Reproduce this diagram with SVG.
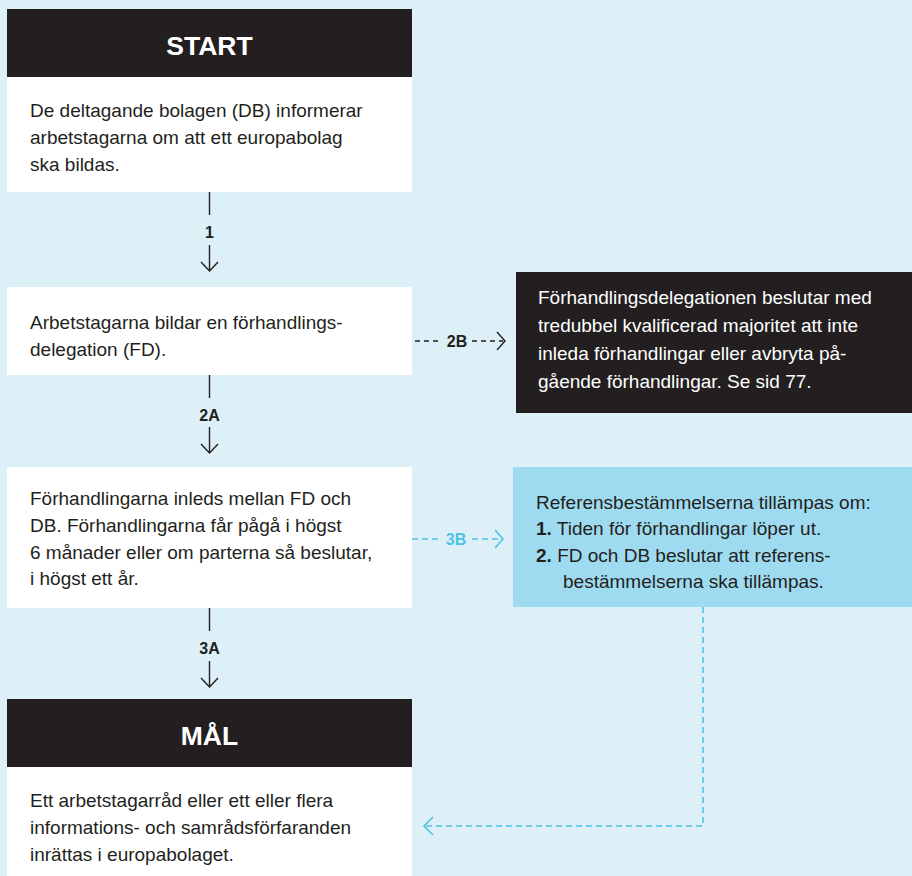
<svg xmlns="http://www.w3.org/2000/svg" width="912" height="876" viewBox="0 0 912 876">
<style>
.t{font-family:"Liberation Sans",Arial,sans-serif;font-size:19px;fill:#231f20}
.tw{font-family:"Liberation Sans",Arial,sans-serif;font-size:19px;fill:#ffffff}
.h{font-family:"Liberation Sans",Arial,sans-serif;font-size:26.500px;font-weight:bold;fill:#ffffff}
.lb{font-family:"Liberation Sans",Arial,sans-serif;font-size:16px;font-weight:bold;fill:#231f20}
.lc{font-family:"Liberation Sans",Arial,sans-serif;font-size:16px;font-weight:bold;fill:#4ec3e6}
.b{font-weight:bold}
.ln{stroke:#231f20;stroke-width:1.4;fill:none}
.dk{stroke:#231f20;stroke-width:1.4;fill:none;stroke-dasharray:5 4}
.cy{stroke:#4ec3e6;stroke-width:1.6;fill:none;stroke-dasharray:6 4}
.cys{stroke:#4ec3e6;stroke-width:1.6;fill:none}
</style>
<rect x="0" y="0" width="912" height="876" fill="#ddf0f8"/>

<g id="start">
<rect x="7" y="9" width="405" height="68" fill="#231f20"/>
<rect x="7" y="77" width="405" height="115" fill="#ffffff"/>
<text class="h" x="209.500" y="54.500" text-anchor="middle">START</text>
<text class="t" x="30" y="116.500">De deltagande bolagen (DB) informerar</text>
<text class="t" x="30" y="143.500">arbetstagarna om att ett europabolag</text>
<text class="t" x="30" y="170.500">ska bildas.</text>
</g>

<g id="step2">
<rect x="7" y="287" width="405" height="88" fill="#ffffff"/>
<text class="t" x="30" y="328.500">Arbetstagarna bildar en förhandlings-</text>
<text class="t" x="30" y="355.500">delegation (FD).</text>
</g>

<g id="step2b">
<rect x="516" y="272" width="396" height="141" fill="#231f20"/>
<text class="tw" x="538" y="303.500">Förhandlingsdelegationen beslutar med</text>
<text class="tw" x="538" y="331.500">tredubbel kvalificerad majoritet att inte</text>
<text class="tw" x="538" y="359.500">inleda förhandlingar eller avbryta på-</text>
<text class="tw" x="538" y="388">gående förhandlingar. Se sid 77.</text>
</g>

<g id="step3">
<rect x="7" y="467" width="405" height="141" fill="#ffffff"/>
<text class="t" x="30" y="504.500">Förhandlingarna inleds mellan FD och</text>
<text class="t" x="30" y="531.500">DB. Förhandlingarna får pågå i högst</text>
<text class="t" x="30" y="558.500">6 månader eller om parterna så beslutar,</text>
<text class="t" x="30" y="585">i högst ett år.</text>
</g>

<g id="step3b">
<rect x="513" y="467" width="399" height="140" fill="#9fdbf0"/>
<text class="t" x="536" y="508.500">Referensbestämmelserna tillämpas om:</text>
<text class="t" x="536" y="534.500"><tspan class="b">1.</tspan> Tiden för förhandlingar löper ut.</text>
<text class="t" x="536" y="561.500"><tspan class="b">2.</tspan> FD och DB beslutar att referens-</text>
<text class="t" x="563" y="587.500">bestämmelserna ska tillämpas.</text>
</g>

<g id="goal">
<rect x="7" y="699" width="405" height="68" fill="#231f20"/>
<rect x="7" y="767" width="405" height="109" fill="#ffffff"/>
<text class="h" x="209.500" y="744.500" text-anchor="middle">MÅL</text>
<text class="t" x="30" y="806.500">Ett arbetstagarråd eller ett eller flera</text>
<text class="t" x="30" y="833.500">informations- och samrådsförfaranden</text>
<text class="t" x="30" y="860.500">inrättas i europabolaget.</text>
</g>

<g id="connectors">
<line class="ln" x1="209.500" y1="192" x2="209.500" y2="215"/>
<text class="lb" x="209.500" y="237.500" text-anchor="middle">1</text>
<line class="ln" x1="209.500" y1="245" x2="209.500" y2="271"/>
<polyline class="ln" points="201,262 209.500,271 218,262"/>
<line class="ln" x1="209.500" y1="375" x2="209.500" y2="398"/>
<text class="lb" x="209.500" y="420.500" text-anchor="middle">2A</text>
<line class="ln" x1="209.500" y1="427" x2="209.500" y2="453"/>
<polyline class="ln" points="201,444 209.500,453 218,444"/>
<line class="ln" x1="209.500" y1="608" x2="209.500" y2="631"/>
<text class="lb" x="209.500" y="653.500" text-anchor="middle">3A</text>
<line class="ln" x1="209.500" y1="661" x2="209.500" y2="687"/>
<polyline class="ln" points="201,678 209.500,687 218,678"/>
<line class="dk" x1="415" y1="341" x2="441" y2="341"/>
<text class="lb" x="457" y="346.500" text-anchor="middle">2B</text>
<line class="dk" x1="472" y1="341" x2="503" y2="341"/>
<polyline class="ln" points="497,332 505,341 497,350"/>
<line class="cy" x1="412" y1="539" x2="438" y2="539"/>
<text class="lc" x="456" y="544.500" text-anchor="middle">3B</text>
<line class="cy" x1="472" y1="539" x2="501" y2="539"/>
<polyline class="cys" points="495,530 503,539 495,548"/>
<polyline class="cy" points="703,607 703,826 425,826"/>
<polyline class="cys" points="433,817 424,826 433,835"/>
</g>
</svg>
